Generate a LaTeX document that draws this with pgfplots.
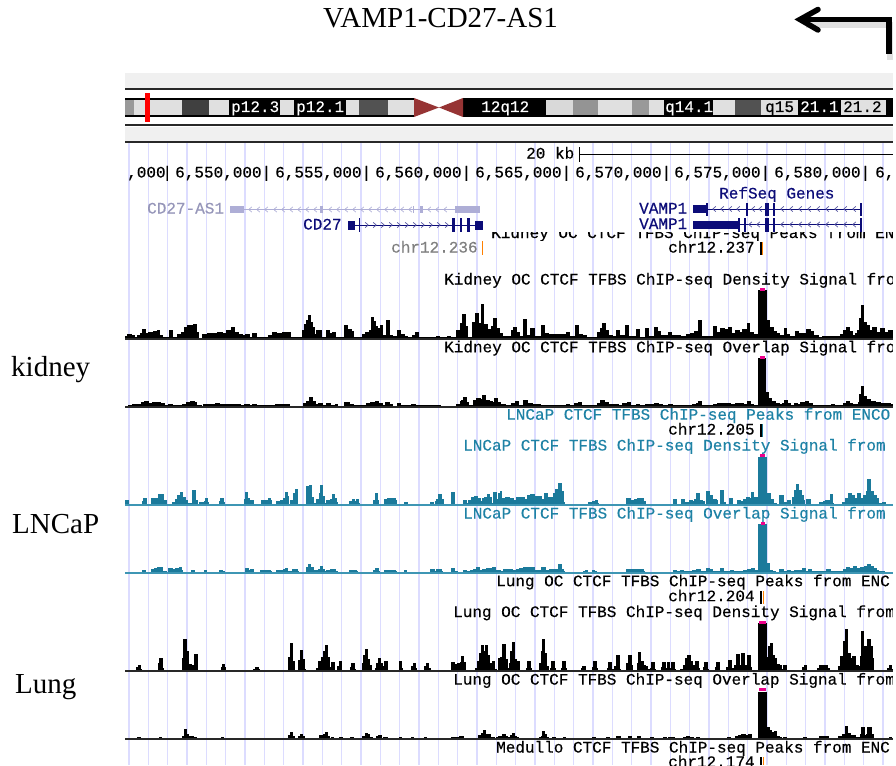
\documentclass[border=0pt]{standalone}
\usepackage{fontspec}
\setmainfont{Liberation Serif}
\newfontfamily\px[FakeBold=0.35]{Liberation Mono}
\usepackage{pgfplots}
\pgfplotsset{compat=1.18}

\definecolor{gridblue}{RGB}{220,220,255}
\definecolor{bandgray}{RGB}{240,240,240}
\definecolor{navy}{RGB}{12,12,120}
\definecolor{lav}{RGB}{174,174,214}
\definecolor{lavtxt}{RGB}{150,150,185}
\definecolor{teal}{RGB}{27,122,155}
\definecolor{tealine}{RGB}{62,150,180}
\definecolor{tealtxt}{RGB}{30,130,165}
\definecolor{cen}{RGB}{150,52,52}
\definecolor{darkline}{RGB}{40,40,40}

% plot marks for the intron chevrons
\pgfdeclareplotmark{chevl}{\pgfpathmoveto{\pgfqpoint{1.8pt}{2.6pt}}\pgfpathlineto{\pgfqpoint{-1.2pt}{0pt}}\pgfpathlineto{\pgfqpoint{1.8pt}{-2.6pt}}\pgfusepathqstroke}
\pgfdeclareplotmark{chevr}{\pgfpathmoveto{\pgfqpoint{-1.8pt}{2.6pt}}\pgfpathlineto{\pgfqpoint{1.2pt}{0pt}}\pgfpathlineto{\pgfqpoint{-1.8pt}{-2.6pt}}\pgfusepathqstroke}

% x0 y0 x1 y1 colour
\newcommand\rect[5]{\addplot[fill=#5,draw=none] coordinates {(#1,#2)(#3,#2)(#3,#4)(#1,#4)} --cycle;}
% x baseline text colour
\newcommand\lab[4]{\node[anchor=base west,inner sep=0pt,text=#4,font=\px\fontsize{16}{16}\selectfont] at (axis cs:#1,#2) {#3};}
% baseline fill line-colour steps: (x,height above the baseline)
\newcommand\track[4]{%
  \addplot[const plot,fill=#2,draw=#2,line width=.6pt,y filter/.expression={#1-y}] coordinates {#4};
  \addplot[draw=#3,line width=2pt] coordinates {(125,#1)(893,#1)};
}

\begin{document}
\begin{tikzpicture}
\begin{axis}[
    scale only axis,
    width=896pt,
    height=765pt,
    xmin=0, xmax=896,
    ymin=0, ymax=765,
    y dir=reverse,
    axis line style={draw=none},
    tick style={draw=none},
    xtick={129,148.3,167.7,187,206.3,225.7,245,264.3,283.7,303,322.3,341.7,361,380.3,399.7,419,438.3,457.7,477,496.3,515.7,535,554.3,573.7,593,612.3,631.7,651,670.3,689.7,709,728.3,747.7,767,786.3,805.7,825,844.3,863.7,883},
    xticklabels={},
    ytick=\empty,
    xmajorgrids,
    major grid style={gridblue,line width=1.5pt},
]
% grid starts under the ideogram
\rect{0}{0}{896}{142}{white}

% ideogram
\rect{125}{73}{893}{89}{bandgray}
\rect{125}{127}{893}{141}{bandgray}
\rect{125}{98}{893}{117}{black}
\rect{125}{100}{134}{115}{gray!80}
\rect{134}{100}{182}{115}{black!12}
\rect{182}{100}{209}{115}{black!75}
\rect{209}{100}{229}{115}{black!12}
\rect{280}{100}{294}{115}{black!12}
\rect{346}{100}{359}{115}{black!12}
\rect{359}{100}{388}{115}{black!68}
\rect{388}{100}{414}{115}{black!12}
\rect{546}{100}{573}{115}{black!15}
\rect{573}{100}{598}{115}{black!42}
\rect{598}{100}{632}{115}{black!12}
\rect{632}{100}{649}{115}{black!40}
\rect{649}{100}{664}{115}{black!12}
\rect{713}{100}{735}{115}{black!12}
\rect{735}{100}{761}{115}{black!68}
\rect{761}{100}{798}{115}{black!12}
\rect{841}{100}{886}{115}{black!12}
\rect{414}{98}{463}{117}{white}
\addplot[fill=cen,draw=none] coordinates {(414,98)(439,107.5)(414,117)} --cycle;
\addplot[fill=cen,draw=none] coordinates {(463,98)(439,107.5)(463,117)} --cycle;
\rect{144.5}{93}{149.5}{122}{red}
\addplot[darkline,line width=2pt] coordinates {(125,89.5)(893,89.5)};
\addplot[darkline,line width=2pt] coordinates {(125,125)(893,125)};
\addplot[darkline,line width=2pt] coordinates {(125,141.5)(893,141.5)};
\lab{231}{112}{p12.3}{white}
\lab{296}{112}{p12.1}{white}
\lab{481}{112}{12q12}{white}
\lab{665}{112}{q14.1}{white}
\lab{765}{112}{q15}{black}
\lab{800}{112}{21.1}{white}
\lab{843}{112}{21.2}{black}

% ruler
\lab{526}{158.5}{20 kb}{black}
\addplot[black,line width=1pt] coordinates {(579,147)(579,162)};
\addplot[black,line width=1pt] coordinates {(579,154)(893,154)};
\lab{127}{177.5}{,000}{black}
\lab{162.2}{177.5}{|}{black}
\lab{175}{177.5}{6,550,000|}{black}
\lab{275}{177.5}{6,555,000|}{black}
\lab{375}{177.5}{6,560,000|}{black}
\lab{475}{177.5}{6,565,000|}{black}
\lab{575}{177.5}{6,570,000|}{black}
\lab{674}{177.5}{6,575,000|}{black}
\lab{774}{177.5}{6,580,000|}{black}
\lab{875}{177.5}{6,}{black}

% half hidden track title behind the gene rows
\begin{scope}
\clip (axis cs:125,232.5) rectangle (axis cs:893,240);
\lab{491}{238}{Kidney OC CTCF TFBS ChIP-seq Peaks from ENC}{black}
\end{scope}

% genes
\lab{719}{198.5}{RefSeq Genes}{navy}
\lab{639}{213.5}{VAMP1}{navy}
\lab{639}{229}{VAMP1}{navy}
\addplot[navy,line width=1pt] coordinates {(707,209)(861,209)};
\addplot[navy,line width=1pt] coordinates {(739,224.5)(861,224.5)};
\rect{693}{205}{707}{213}{navy}
\rect{706}{203}{707.5}{216}{navy}
\rect{746}{203}{747.5}{216}{navy}
\rect{765}{203}{768.5}{216}{navy}
\rect{773}{203}{775}{216}{navy}
\rect{860}{203}{862}{216}{navy}
\rect{693}{220.5}{739}{229}{navy}
\rect{738}{218}{740}{232}{navy}
\rect{744}{218}{745.5}{232}{navy}
\rect{765}{218}{768.5}{232}{navy}
\rect{773}{218}{775}{232}{navy}
\rect{860}{218}{862}{232}{navy}
\addplot[only marks,mark=chevl,mark size=1pt,navy!70,line width=.7pt] coordinates {(714,209)(722,209)(730,209)(738,209)(753,209)(760,209)(782,209)(791,209)(800,209)(809,209)(818,209)(827,209)(836,209)(845,209)(854,209)(750,224.5)(758,224.5)(782,224.5)(791,224.5)(800,224.5)(809,224.5)(818,224.5)(827,224.5)(836,224.5)(845,224.5)(854,224.5)};

\lab{147}{213.5}{CD27-AS1}{lavtxt}
\addplot[lav,line width=1pt] coordinates {(244,209.5)(455,209.5)};
\rect{230}{205.5}{244}{213}{lav}
\rect{455}{205.5}{480}{213}{lav}
\rect{320}{206}{323}{213}{lav}
\rect{412.5}{206}{414}{213}{lav}
\rect{420}{206}{423}{213}{lav}
\addplot[only marks,mark=chevl,mark size=1pt,lav,line width=.7pt] coordinates {(250,209.5)(258,209.5)(266,209.5)(275,209.5)(283,209.5)(291,209.5)(299,209.5)(307,209.5)(315,209.5)(330,209.5)(338,209.5)(346,209.5)(354,209.5)(362,209.5)(370,209.5)(378,209.5)(386,209.5)(394,209.5)(402,209.5)(410,209.5)(429,209.5)(437,209.5)(445,209.5)};

\lab{303}{229.5}{CD27}{navy}
\addplot[navy,line width=1pt] coordinates {(355,225)(475,225)};
\rect{348}{220.5}{355}{230}{navy}
\rect{358.5}{218}{360}{232}{navy}
\rect{452}{218}{455}{232}{navy}
\rect{460}{218}{461.5}{232}{navy}
\rect{467}{218}{470}{232}{navy}
\rect{475}{220.5}{483}{230}{navy}
\addplot[only marks,mark=chevr,mark size=1pt,navy!70,line width=.7pt] coordinates {(367,225)(375,225)(383,225)(391,225)(399,225)(407,225)(415,225)(423,225)(431,225)(439,225)(447,225)};

\lab{391}{252.5}{chr12.236}{black!50}
\rect{481.5}{241}{483}{255}{orange}
\lab{668}{252.5}{chr12.237}{black}
\rect{759.5}{242}{762}{255}{black}
\rect{762}{242}{763.2}{255}{orange}

% kidney
\lab{444}{284.5}{Kidney OC CTCF TFBS ChIP-seq Density Signal fro}{black}
\track{338.5}{black}{darkline}{(125,0)(125,2)(127,4)(131,3)(134,1)(137,3)(140,5)(142,9)(145,5)(148,6)(153,7)(157,8)(159,3)(162,1)(168,1)(169,8)(172,1)(177,4)(181,6)(184,11)(187,13)(192,10)(193,14)(196,6)(198,0)(202,4)(207,5)(212,5)(217,6)(222,5)(226,8)(231,11)(234,6)(238,4)(242,3)(245,4)(249,1)(252,5)(256,1)(263,1)(268,3)(272,6)(276,5)(282,6)(287,6)(290,1)(302,8)(304,14)(306,18)(308,23)(310,16)(312,11)(314,4)(316,8)(319,8)(321,1)(326,8)(329,5)(332,6)(335,1)(344,13)(347,9)(351,7)(353,1)(362,4)(365,6)(369,8)(371,21)(373,17)(375,12)(377,10)(380,13)(382,3)(386,18)(389,3)(392,2)(397,8)(400,4)(404,2)(407,1)(412,3)(415,6)(418,1)(436,2)(439,1)(447,2)(450,1)(456,8)(460,15)(462,24)(465,12)(467,1)(472,16)(475,25)(478,15)(481,34)(483,14)(487,9)(491,12)(493,20)(496,10)(499,5)(502,2)(505,2)(511,8)(513,11)(516,6)(519,2)(523,19)(526,3)(530,10)(534,2)(540,2)(541,13)(544,5)(548,4)(552,4)(556,4)(566,6)(569,2)(575,13)(578,4)(582,3)(586,1)(597,6)(600,10)(602,15)(605,8)(608,3)(612,2)(616,8)(619,3)(625,13)(628,2)(636,9)(639,1)(645,10)(648,2)(654,11)(657,7)(660,3)(668,6)(671,3)(680,2)(686,4)(690,5)(694,7)(698,18)(701,2)(713,12)(716,6)(720,10)(724,9)(728,11)(731,5)(735,8)(739,6)(742,9)(747,15)(749,6)(753,4)(758,48)(766,18)(769,11)(773,7)(776,5)(779,3)(781,3)(784,10)(786,4)(789,2)(795,7)(798,5)(806,9)(810,7)(813,3)(818,1)(822,2)(828,2)(840,4)(843,8)(846,11)(849,7)(852,3)(855,5)(857,8)(859,20)(861,33)(863,16)(866,13)(869,8)(872,11)(876,6)(880,10)(884,6)(888,8)(892,5)(893,0)}
\rect{759.5}{287.7}{764.8}{291}{magenta}
\lab{444}{352.3}{Kidney OC CTCF TFBS ChIP-seq Overlap Signal fro}{black}
\track{406.5}{black}{darkline}{(125,0)(128,1)(132,2)(136,2)(141,4)(144,5)(148,3)(152,4)(156,4)(160,3)(164,1)(168,2)(172,1)(178,1)(182,2)(186,4)(190,5)(194,4)(196,1)(201,0)(203,2)(210,2)(215,3)(219,2)(225,2)(230,2)(235,2)(240,1)(244,2)(249,1)(252,2)(256,1)(268,1)(275,2)(285,2)(289,0)(303,3)(306,5)(309,9)(312,5)(315,2)(318,3)(322,1)(326,3)(330,1)(335,2)(337,0)(344,4)(349,2)(353,1)(362,1)(366,3)(370,4)(375,5)(378,3)(382,1)(385,4)(389,2)(392,0)(397,3)(400,1)(404,1)(411,2)(415,1)(437,1)(440,0)(456,2)(460,5)(461,6)(463,9)(466,4)(468,1)(473,6)(476,8)(480,7)(482,11)(485,6)(489,5)(492,4)(494,8)(497,4)(500,2)(505,1)(511,3)(515,5)(518,1)(523,6)(527,3)(532,2)(540,1)(548,1)(552,1)(566,2)(569,1)(574,3)(578,4)(581,1)(597,3)(600,6)(604,4)(608,2)(618,1)(622,3)(627,4)(630,1)(636,2)(639,1)(645,2)(654,3)(658,2)(662,1)(668,2)(672,1)(682,1)(688,1)(692,2)(696,3)(698,5)(701,1)(713,2)(717,3)(722,3)(726,3)(730,2)(735,3)(739,3)(743,2)(747,5)(750,2)(753,1)(758,48)(765,14)(768,8)(771,5)(775,3)(779,2)(782,3)(784,6)(787,3)(790,1)(794,3)(797,2)(800,4)(805,5)(808,3)(812,1)(818,1)(825,1)(831,2)(834,1)(840,1)(843,3)(846,5)(849,3)(852,2)(855,2)(858,4)(859,12)(861,20)(863,10)(866,7)(870,5)(875,4)(880,3)(885,3)(890,2)(893,0)}
\rect{759.5}{355.7}{764.8}{358.8}{magenta}

% LNCaP
\lab{506}{419.7}{LNCaP CTCF TFBS ChIP-seq Peaks from ENCO}{tealtxt}
\lab{668}{434.5}{chr12.205}{black}
\rect{759.5}{424}{762}{437}{black}
\rect{762}{424}{763}{437}{teal}
\lab{463}{450.5}{LNCaP CTCF TFBS ChIP-seq Density Signal from}{tealtxt}
\track{505}{teal}{tealine}{(125,0)(125,5)(128,1)(130,0)(142,4)(143,7)(146,1)(148,0)(151,7)(155,7)(158,11)(161,11)(163,5)(166,1)(168,0)(172,3)(175,6)(177,10)(180,13)(182,8)(185,5)(187,2)(190,0)(191,2)(192,15)(195,5)(197,1)(199,3)(202,3)(204,4)(205,7)(207,3)(208,0)(219,4)(220,7)(223,3)(224,0)(244,6)(245,13)(247,7)(249,0)(250,5)(253,0)(261,5)(265,5)(268,7)(270,5)(271,0)(276,4)(280,5)(283,7)(285,13)(287,9)(288,0)(290,5)(293,12)(295,16)(297,0)(306,19)(309,20)(311,8)(313,2)(316,6)(319,12)(320,20)(322,9)(324,2)(326,5)(330,6)(332,11)(334,7)(336,3)(337,0)(349,4)(352,6)(354,4)(356,6)(358,2)(359,0)(373,5)(375,12)(377,5)(378,0)(384,6)(387,7)(393,7)(395,5)(396,0)(404,3)(407,1)(409,0)(430,3)(433,1)(435,4)(436,6)(438,11)(441,6)(443,1)(444,0)(451,13)(454,1)(457,0)(463,5)(466,2)(468,5)(471,8)(474,9)(477,7)(480,4)(482,7)(484,8)(487,11)(489,8)(491,2)(493,13)(496,6)(498,12)(500,14)(501,7)(505,8)(509,7)(513,5)(516,8)(520,8)(524,6)(527,10)(530,11)(534,9)(538,9)(541,6)(544,12)(547,8)(550,8)(553,12)(555,16)(558,22)(561,14)(563,3)(564,0)(588,3)(592,4)(595,5)(597,2)(598,0)(626,7)(630,5)(634,6)(637,7)(640,7)(643,4)(645,0)(673,6)(676,1)(681,6)(684,3)(689,5)(692,4)(694,6)(696,12)(699,5)(702,4)(704,1)(706,14)(709,10)(712,6)(716,5)(717,1)(720,15)(723,3)(725,1)(729,7)(732,1)(737,5)(740,4)(743,6)(746,8)(749,7)(751,13)(753,8)(757,3)(758,48)(766,12)(770,6)(773,2)(776,1)(778,0)(779,10)(783,3)(786,1)(787,5)(790,1)(792,8)(794,15)(796,21)(798,15)(801,10)(803,5)(804,1)(806,6)(809,6)(810,0)(819,3)(823,4)(825,5)(829,5)(830,11)(832,2)(833,0)(842,3)(845,7)(848,12)(851,10)(854,7)(857,12)(860,7)(863,10)(866,14)(867,26)(870,14)(873,10)(876,7)(878,2)(882,3)(885,1)(887,0)(893,0)}
\rect{759.5}{454}{764.8}{457.3}{magenta}
\lab{463}{518.5}{LNCaP CTCF TFBS ChIP-seq Overlap Signal from}{tealtxt}
\track{572.5}{teal}{tealine}{(125,0)(142,2)(145,0)(151,3)(154,4)(157,5)(160,5)(162,1)(166,0)(168,4)(172,3)(175,4)(179,5)(181,2)(182,0)(191,2)(194,0)(204,2)(206,0)(219,2)(222,1)(224,0)(245,4)(248,2)(249,0)(250,3)(253,0)(260,2)(270,1)(271,0)(276,2)(283,3)(285,4)(287,1)(292,3)(295,3)(297,1)(298,0)(306,5)(308,8)(310,5)(313,2)(315,2)(318,3)(320,6)(322,3)(324,1)(326,2)(330,3)(332,3)(335,1)(337,0)(349,2)(356,1)(357,0)(373,2)(375,4)(378,1)(379,0)(384,2)(395,1)(396,0)(404,2)(406,0)(430,3)(434,1)(436,3)(439,3)(441,1)(442,0)(451,4)(454,1)(457,0)(463,2)(466,1)(470,2)(473,3)(476,5)(479,2)(482,3)(486,4)(489,4)(492,5)(495,2)(500,1)(503,3)(508,3)(512,2)(516,3)(519,4)(523,5)(526,5)(530,5)(534,2)(537,2)(541,5)(545,2)(549,3)(552,3)(556,3)(558,8)(561,3)(563,1)(564,0)(583,1)(585,2)(587,0)(592,2)(594,1)(596,0)(626,3)(630,3)(636,3)(640,3)(643,1)(644,0)(673,2)(676,1)(680,2)(683,1)(692,2)(696,3)(700,1)(706,4)(709,3)(712,1)(716,1)(720,4)(723,1)(730,2)(733,1)(738,1)(743,2)(747,3)(751,4)(754,2)(757,2)(758,48)(766,9)(769,2)(772,1)(775,0)(779,3)(783,1)(787,2)(790,1)(794,2)(798,2)(802,4)(805,1)(808,3)(811,1)(820,1)(826,3)(830,1)(840,1)(843,3)(846,5)(849,4)(853,6)(856,4)(860,5)(864,6)(867,8)(870,6)(873,4)(876,2)(878,1)(880,1)(884,0)(893,0)}
\rect{761}{521.7}{764.8}{525.3}{magenta}

% lung
\lab{496}{586.2}{Lung OC CTCF TFBS ChIP-seq Peaks from ENC}{black}
\lab{668}{601.2}{chr12.204}{black}
\rect{759.5}{591}{762}{604}{black}
\rect{762.5}{591}{764}{604}{orange}
\lab{453}{617}{Lung OC CTCF TFBS ChIP-seq Density Signal from}{black}
\track{671}{black}{darkline}{(125,0)(136,4)(138,6)(140,2)(141,0)(158,8)(159,13)(162,3)(163,0)(182,13)(183,32)(186,20)(188,7)(191,6)(194,17)(197,0)(221,4)(222,7)(224,4)(225,0)(253,2)(255,4)(258,2)(259,0)(288,14)(290,28)(292,10)(294,1)(295,0)(298,11)(300,21)(302,12)(304,2)(305,0)(316,3)(318,10)(321,14)(323,20)(325,26)(327,14)(329,4)(331,9)(334,1)(337,5)(339,10)(341,1)(342,0)(350,4)(351,8)(354,2)(355,0)(362,8)(363,16)(365,22)(367,12)(369,6)(371,0)(375,3)(376,8)(378,13)(380,8)(382,5)(384,10)(386,10)(387,0)(399,10)(401,3)(402,0)(411,5)(413,8)(415,3)(416,0)(424,5)(426,8)(428,3)(430,0)(451,9)(454,7)(457,8)(460,9)(461,15)(463,9)(465,0)(475,3)(477,10)(479,18)(481,26)(483,20)(485,26)(487,16)(489,8)(491,0)(492,10)(494,2)(496,0)(498,13)(500,14)(502,27)(505,12)(507,3)(508,0)(509,8)(510,20)(512,29)(514,12)(516,3)(517,10)(519,1)(520,0)(526,3)(527,10)(530,3)(531,0)(539,8)(541,20)(542,32)(544,18)(546,5)(548,0)(550,3)(551,10)(554,3)(555,0)(561,3)(562,10)(565,3)(566,0)(581,3)(582,5)(585,1)(586,0)(592,4)(593,10)(596,3)(597,0)(607,3)(608,9)(611,2)(614,5)(616,16)(619,2)(620,0)(626,8)(628,16)(631,6)(632,0)(637,8)(638,19)(640,10)(643,6)(645,5)(647,2)(650,3)(651,9)(654,2)(655,0)(661,4)(662,9)(665,3)(667,9)(669,3)(671,9)(674,2)(675,0)(680,2)(683,6)(685,13)(687,16)(690,10)(692,6)(694,3)(695,10)(698,3)(699,0)(703,4)(704,9)(707,2)(708,0)(715,4)(716,9)(719,1)(720,0)(726,4)(728,11)(731,3)(734,6)(736,17)(739,6)(741,18)(744,6)(747,16)(750,4)(751,0)(758,48)(766,14)(768,25)(770,28)(772,16)(774,13)(776,7)(779,6)(781,2)(783,6)(786,1)(787,0)(802,4)(804,6)(806,0)(817,3)(819,6)(825,6)(827,3)(829,0)(838,5)(840,15)(843,30)(845,42)(847,18)(850,13)(852,15)(855,6)(858,5)(860,15)(861,40)(863,25)(866,14)(867,32)(870,25)(872,13)(873,0)(887,3)(889,6)(891,2)(893,0)}
\rect{759}{620.7}{765.5}{623.5}{magenta}
\lab{453}{684.6}{Lung OC CTCF TFBS ChIP-seq Overlap Signal from}{black}
\track{739}{black}{darkline}{(125,0)(137,2)(140,0)(158,1)(159,2)(161,0)(182,3)(184,10)(186,5)(188,3)(193,2)(196,1)(197,0)(221,2)(223,0)(288,4)(290,7)(292,3)(294,0)(298,3)(300,5)(302,3)(304,0)(316,1)(319,4)(323,5)(325,7)(327,3)(329,1)(331,2)(333,0)(337,1)(339,2)(342,0)(350,2)(353,0)(362,3)(365,6)(367,5)(369,2)(372,0)(376,3)(378,4)(381,1)(383,2)(385,2)(387,0)(399,2)(401,0)(411,2)(413,0)(424,2)(426,0)(451,2)(454,2)(457,2)(459,3)(461,3)(463,1)(465,0)(475,1)(478,4)(481,6)(483,9)(485,5)(487,5)(490,2)(492,2)(494,1)(496,2)(498,3)(500,3)(502,5)(505,3)(507,2)(510,4)(512,6)(514,3)(516,2)(518,1)(519,0)(539,2)(541,3)(542,8)(544,5)(546,2)(548,0)(550,1)(552,2)(555,0)(561,1)(563,2)(565,0)(592,2)(595,0)(606,2)(609,1)(611,0)(616,3)(620,0)(628,3)(631,0)(637,3)(640,1)(648,1)(650,2)(653,0)(661,1)(663,2)(666,1)(668,2)(671,2)(674,0)(683,2)(686,3)(689,2)(693,1)(696,2)(699,0)(703,1)(706,0)(715,1)(718,0)(727,2)(730,0)(735,3)(738,4)(741,5)(745,4)(748,5)(751,1)(752,0)(758,47)(766,12)(769,9)(771,7)(774,8)(776,3)(779,2)(781,1)(783,2)(786,0)(803,2)(806,0)(817,1)(819,3)(825,3)(828,0)(838,3)(842,5)(845,13)(847,6)(850,4)(852,4)(855,2)(858,2)(860,5)(861,12)(864,4)(866,5)(867,12)(871,5)(873,0)(887,1)(889,2)(891,1)(893,0)}
\rect{759}{688.3}{765.5}{691.3}{magenta}

% next track, cut by the bottom edge
\lab{496}{752.5}{Medullo CTCF TFBS ChIP-seq Peaks from ENC}{black}
\lab{668}{767}{chr12.174}{black}
\rect{759.5}{757}{762}{765}{black}
\rect{762.5}{757}{764}{765}{orange}

% right margin of the browser image
\rect{893}{60}{896}{765}{white}

% side labels
\node[anchor=base west,inner sep=0pt,font=\fontsize{29}{30}\selectfont] at (axis cs:323,28) {VAMP1-CD27-AS1};
\node[anchor=base west,inner sep=0pt,font=\fontsize{29}{30}\selectfont] at (axis cs:11,376) {kidney};
\node[anchor=base west,inner sep=0pt,font=\fontsize{29}{30}\selectfont] at (axis cs:12,533) {LNCaP};
\node[anchor=base west,inner sep=0pt,font=\fontsize{29}{30}\selectfont] at (axis cs:15,693) {Lung};

% arrow
\addplot[black!12,line width=6pt] coordinates {(890,60)(890,25)(806,25)};
\addplot[black,line width=5.5pt,line join=miter] coordinates {(889,54)(889,19.5)(802,19.5)};
\addplot[black,line width=5.5pt,line cap=round,line join=miter] coordinates {(818,9.5)(800,19.5)(818,30)};
\end{axis}
\pgfresetboundingbox
\path[use as bounding box] (current axis.south west) rectangle (current axis.north east);
\end{tikzpicture}
\end{document}
